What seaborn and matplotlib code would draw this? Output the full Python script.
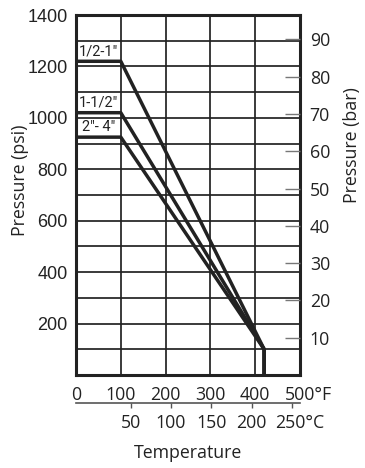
import matplotlib
matplotlib.use("Agg")
import matplotlib.pyplot as plt
import matplotlib.transforms as mtransforms
import seaborn as sns
import pandas as pd

# ---- data ----
temps_f = [0, 100, 420, 420]
series_names = ['1/2-1"', '1-1/2"', '2"- 4"']
p_half_one = [1220, 1220, 100, 0]
p_one_half = [1020, 1020, 100, 0]
p_two_four = [925, 925, 100, 0]
psi_ticks = [200, 400, 600, 800, 1000, 1200, 1400]
bar_ticks = [10, 20, 30, 40, 50, 60, 70, 80, 90]
f_ticks = [0, 100, 200, 300, 400, 500]
f_labels = ["0", "100", "200", "300", "400", "500°F"]
c_ticks = [50, 100, 150, 200, 250]
c_labels = ["50", "100", "150", "200", "250°C"]
PSI_PER_BAR = 14.5038

rows = []
for name, vals in zip(series_names, [p_half_one, p_one_half, p_two_four]):
    for i, (t, p) in enumerate(zip(temps_f, vals)):
        rows.append({"series": name, "temp": t, "psi": p, "order": i})
df = pd.DataFrame(rows)

sns.set_theme(style="white")
plt.rcParams["font.family"] = ["Open Sans", "DejaVu Sans"]
INK = "#222222"

fig = plt.figure(figsize=(3.65, 4.68), dpi=100)
ax = fig.add_axes([76 / 365, 93 / 468, 224 / 365, 360 / 468])

sns.lineplot(data=df, x="temp", y="psi", units="series", estimator=None,
             sort=False, color=INK, linewidth=2.5, ax=ax, legend=False)

ax.set_xlim(0, 500)
ax.set_ylim(0, 1400)

# grid
ax.set_xticks(f_ticks)
ax.set_xticklabels(f_labels)
ax.set_yticks(psi_ticks)
ax.set_yticks(range(100, 1400, 200), minor=True)
ax.grid(True, which="both", color=INK, linewidth=1.25)
ax.set_axisbelow(True)
for s in ax.spines.values():
    s.set_visible(True)
    s.set_color(INK)
    s.set_linewidth(2.2)

ax.tick_params(axis="y", which="both", length=0, pad=6, labelsize=13,
               labelcolor=INK)
for lab in ax.get_yticklabels():
    lab.set_fontfamily(["Liberation Sans", "DejaVu Sans"])
ax.tick_params(axis="x", length=0, pad=8, labelsize=12.8, labelcolor=INK)
last = ax.get_xticklabels()[-1]
last.set_transform(last.get_transform() +
                   mtransforms.ScaledTranslation(8 / 100, 0, fig.dpi_scale_trans))

ax.set_xlabel("")
ax.set_ylabel("Pressure (psi)", fontsize=12.8, color=INK)
ax.yaxis.set_label_coords(-0.212, 0.54)

# series labels
for name, vals in zip(series_names, [p_half_one, p_one_half, p_two_four]):
    ax.text(50, vals[0] + 38, name, ha="center", va="center", fontsize=10.5,
            color=INK, family=["Liberation Sans Narrow", "Roboto", "DejaVu Sans"])

# right axis in bar
ax2 = ax.twinx()
ax2.set_ylim(0, 1400 / PSI_PER_BAR)
ax2.set_yticks(bar_ticks)
ax2.tick_params(axis="y", direction="in", length=10.8, width=1.0,
                color="#777777", pad=7, labelsize=12.8, labelcolor=INK)
ax2.grid(False)
for s in ax2.spines.values():
    s.set_visible(False)
ax2.set_ylabel("Pressure (bar)", fontsize=12.8, color=INK)
ax2.yaxis.set_label_coords(1.19, 0.64)

# secondary celsius axis
sec = ax.secondary_xaxis(-0.0786, functions=(lambda f: (f - 32) / 1.8,
                                             lambda c: c * 1.8 + 32))
sec.set_xticks(c_ticks)
sec.set_xticklabels(c_labels)
sec.tick_params(axis="x", direction="out", length=3.6, width=1.0,
                color="#555555", pad=4, labelsize=12.8, labelcolor=INK)
sec.spines["bottom"].set_color("#555555")
sec.spines["bottom"].set_linewidth(1.2)
lastc = sec.get_xticklabels()[-1]
lastc.set_transform(lastc.get_transform() +
                    mtransforms.ScaledTranslation(8 / 100, 0, fig.dpi_scale_trans))
sec.set_xlabel("Temperature", fontsize=12.8, color=INK, labelpad=9)

fig.savefig("out.png", dpi=100, facecolor="white")
